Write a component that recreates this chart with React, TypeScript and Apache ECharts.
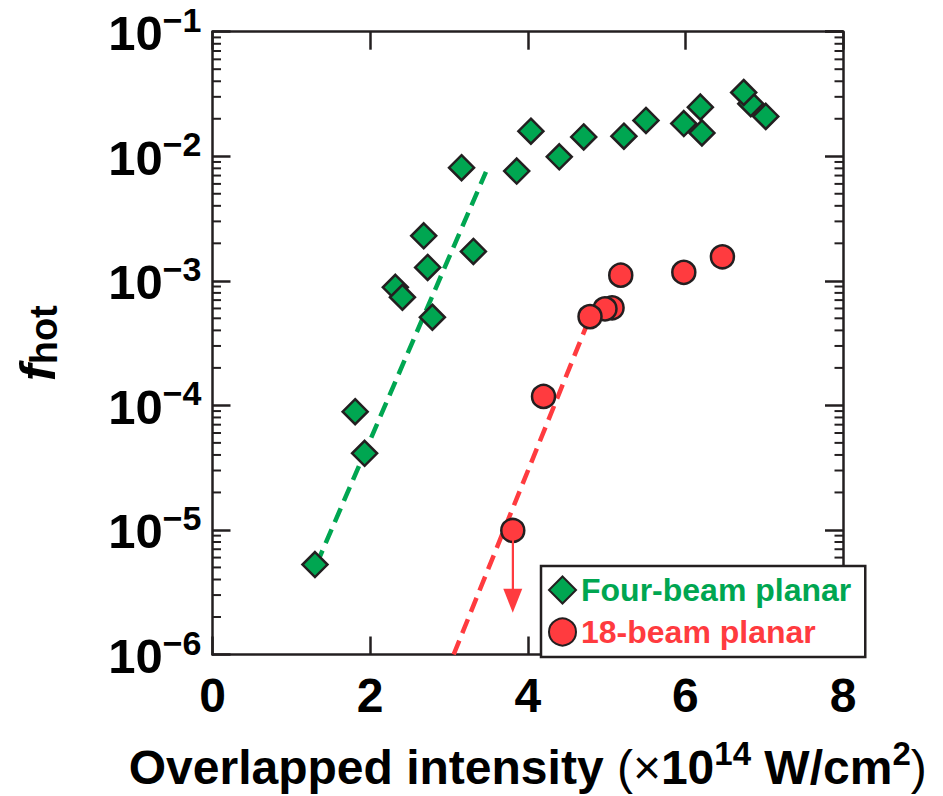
import React, { useEffect, useRef } from 'react';
import * as echarts from 'echarts';

// ---- data ----
const fourBeamX = [1.30, 1.81, 1.93, 2.32, 2.41, 2.68, 2.73, 2.79, 3.16, 3.31, 3.86, 4.04, 4.40, 4.71, 5.22, 5.50, 5.98, 6.19, 6.21, 6.83, 6.74, 7.02];
const fourBeamY = [5.27e-6, 8.9e-5, 4.12e-5, 8.87e-4, 7.38e-4, 2.30e-3, 1.28e-3, 5.1e-4, 8.1e-3, 1.72e-3, 7.6e-3, 1.59e-2, 9.9e-3, 1.43e-2, 1.45e-2, 1.94e-2, 1.83e-2, 2.48e-2, 1.54e-2, 2.64e-2, 3.25e-2, 2.09e-2];
const eighteenBeamX = [3.81, 4.20, 5.07, 4.98, 4.79, 5.18, 5.98, 6.47];
const eighteenBeamY = [9.9e-6, 1.18e-4, 6.07e-4, 5.96e-4, 5.16e-4, 1.11e-3, 1.17e-3, 1.56e-3];
const fourBeamFitX = [1.32, 3.47];
const fourBeamFitY = [5.3e-6, 7.5e-3];
const eighteenBeamFitX = [3.06, 4.75];
const eighteenBeamFitY = [1.0e-6, 4.43e-4];
const upperLimitX = [3.81, 3.81];
const upperLimitY = [9.9e-6, 2.7e-6];
const xMin = 0;
const xMax = 8;
const xStep = 2;
const yMin = 1e-6;
const yMax = 1e-1;
const minorMultipliers = [2, 3, 4, 5, 6, 7, 8, 9];
const minorDecades = [-6, -5, -4, -3, -2];
const seriesNames = ['Four-beam planar', '18-beam planar'];

const green = '#00A651';
const red = '#FF3B3F';
const ink = '#231F20';
const font = '"Liberation Sans", Arial, Helvetica, sans-serif';

const zip = (xs: number[], ys: number[]) => xs.map((x, i) => [x, ys[i]]);

const minorValues: number[][] = [];
minorDecades.forEach((e) => minorMultipliers.forEach((k) => minorValues.push([0, k * Math.pow(10, e)])));

export default function App() {
  const ref = useRef<HTMLDivElement>(null);
  useEffect(() => {
    if (!ref.current) return;
    const chart = echarts.init(ref.current, undefined, { renderer: 'svg' });
    const axisLine = { show: true, onZero: false, lineStyle: { color: ink, width: 2.5 } };
    const majorTick = { show: true, inside: true, length: 18, lineStyle: { color: ink, width: 2.5 } };
    const option: any = {
      animation: false,
      backgroundColor: '#ffffff',
      grid: { left: 212.5, right: 100, top: 31.7, bottom: 139, containLabel: false },
      xAxis: [
        {
          type: 'value', min: xMin, max: xMax, interval: xStep, position: 'bottom',
          axisLine, axisTick: majorTick, splitLine: { show: false },
          axisLabel: { margin: 17, fontSize: 48, fontWeight: 'bold', color: '#000', fontFamily: font },
          name: '{a|Overlapped intensity }{n|(×}{a|10}{s|14}{a| W/cm}{s|2}{n|)}',
          nameLocation: 'middle', nameGap: 82,
          nameTextStyle: {
            color: '#000', fontFamily: font,
            rich: {
              a: { fontSize: 48, fontWeight: 'bold', fontFamily: font, color: '#000' },
              n: { fontSize: 48, fontWeight: 'normal', fontFamily: font, color: '#000' },
              s: { fontSize: 33, fontWeight: 'bold', fontFamily: font, color: '#000', padding: [0, 0, 28, 0] },
            },
          },
        },
        {
          type: 'value', min: xMin, max: xMax, interval: xStep, position: 'top',
          axisLine, axisTick: majorTick, splitLine: { show: false }, axisLabel: { show: false },
        },
      ],
      yAxis: [
        {
          type: 'log', logBase: 10, min: yMin, max: yMax, position: 'left',
          axisLine, axisTick: majorTick, splitLine: { show: false },
          axisLabel: {
            margin: 11, showMinLabel: true, showMaxLabel: true,
            formatter: (v: number) => `{b|10}{s|−${-Math.round(Math.log10(v))}}`,
            rich: {
              b: { fontSize: 49, fontWeight: 'bold', fontFamily: font, color: '#000', padding: [3, 0, 0, 0] },
              s: { fontSize: 34, fontWeight: 'bold', fontFamily: font, color: '#000', padding: [0, 0, 24, 0] },
            },
          },
          name: '{f|f}{h|hot}',
          nameLocation: 'middle', nameGap: 150, nameRotate: 90,
          nameTextStyle: {
            color: '#000', fontFamily: font,
            rich: {
              f: { fontSize: 50, fontWeight: 'bold', fontStyle: 'italic', fontFamily: font, color: '#000' },
              h: { fontSize: 38, fontWeight: 'bold', fontFamily: font, color: '#000', padding: [12, 0, 0, 0] },
            },
          },
        },
        {
          type: 'log', logBase: 10, min: yMin, max: yMax, position: 'right',
          axisLine, axisTick: majorTick, splitLine: { show: false }, axisLabel: { show: false },
        },
      ],
      legend: {
        orient: 'vertical', left: 541, top: 566,
        data: [
          { name: seriesNames[0], textStyle: { color: green } },
          { name: seriesNames[1], textStyle: { color: red } },
        ],
        itemWidth: 27, itemHeight: 27, itemGap: 10,
        padding: [8, 14, 9, 7],
        backgroundColor: '#ffffff', borderColor: ink, borderWidth: 2.5, borderRadius: 0,
        textStyle: { fontSize: 32, fontWeight: 'bold', fontFamily: font, lineHeight: 31 },
        selectedMode: false,
      },
      series: [
        {
          type: 'custom', name: 'minor ticks', silent: true, z: 1,
          coordinateSystem: 'cartesian2d', xAxisIndex: 0, yAxisIndex: 0,
          data: minorValues,
          renderItem: (params: any, api: any) => {
            const p = api.coord([0, api.value(1)]);
            const cs = params.coordSys;
            const style = { stroke: ink, lineWidth: 2 };
            return {
              type: 'group',
              children: [
                { type: 'line', shape: { x1: cs.x, y1: p[1], x2: cs.x + 8.5, y2: p[1] }, style },
                { type: 'line', shape: { x1: cs.x + cs.width - 8.5, y1: p[1], x2: cs.x + cs.width, y2: p[1] }, style },
              ],
            };
          },
        },
        {
          type: 'line', name: 'Four-beam fit', data: zip(fourBeamFitX, fourBeamFitY),
          showSymbol: false, symbol: 'none', silent: true, z: 2,
          lineStyle: { color: green, width: 4.5, type: [15, 8] },
        },
        {
          type: 'line', name: '18-beam fit', data: zip(eighteenBeamFitX, eighteenBeamFitY),
          showSymbol: false, symbol: 'none', silent: true, z: 2,
          lineStyle: { color: red, width: 4.5, type: [15, 8] },
        },
        {
          type: 'line', name: 'upper limit', data: zip(upperLimitX, upperLimitY),
          showSymbol: false, symbol: 'none', silent: true, z: 2,
          lineStyle: { color: red, width: 2 },
          markLine: {
            silent: true, symbol: ['none', 'triangle'], symbolSize: [19, 24], symbolRotate: 180,
            label: { show: false },
            lineStyle: { color: red, width: 2, type: 'solid' },
            data: [[{ coord: [upperLimitX[0], upperLimitY[0]] }, { coord: [upperLimitX[1], upperLimitY[1]] }]],
          },
        },
        {
          type: 'scatter', name: seriesNames[0], data: zip(fourBeamX, fourBeamY),
          symbol: 'diamond', symbolSize: 25, z: 3,
          itemStyle: { color: green, borderColor: ink, borderWidth: 2.5, opacity: 1 },
        },
        {
          type: 'scatter', name: seriesNames[1], data: zip(eighteenBeamX, eighteenBeamY),
          symbol: 'circle', symbolSize: 23, z: 3,
          itemStyle: { color: red, borderColor: ink, borderWidth: 2.5, opacity: 1 },
        },
      ],
    };
    chart.setOption(option);
    return () => chart.dispose();
  }, []);
  return <div ref={ref} style={{ position: 'fixed', left: 0, top: 0, width: 943, height: 796 }} />;
}
